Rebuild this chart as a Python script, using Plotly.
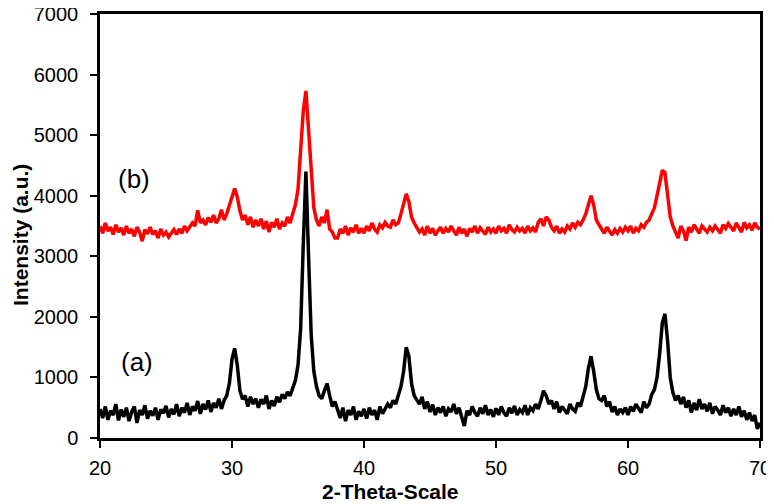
import numpy as np
import plotly.graph_objects as go

# 2-theta grid, 0.2 deg steps from 20 to 70
two_theta = np.round(np.arange(20.0, 70.01, 0.2), 1)

# pattern (a) - black (one row = 2 deg)
intensity_a = [
    480, 330, 520, 300, 450, 380, 560, 290, 470, 350,
    500, 280, 430, 520, 250, 460, 380, 540, 320, 450,
    370, 500, 300, 470, 410, 530, 340, 480, 390, 560,
    360, 500, 420, 580, 380, 520, 450, 610, 400, 560,
    470, 620, 430, 580, 500, 650, 480, 620, 700, 900,
    1300, 1480, 1200, 780, 640, 700, 520, 680, 560, 650,
    500, 640, 560, 700, 480, 620, 530, 680, 590, 720,
    650, 760, 700, 850, 950, 1200, 1800, 3200, 4400, 3000,
    1700, 1100, 850, 700, 650, 780, 900, 700, 520, 600,
    450, 330, 500, 280, 460, 380, 520, 300, 440, 360,
    480, 320, 500, 380, 460, 300, 520, 400, 480, 560,
    500, 620, 560, 700, 850, 1100, 1500, 1350, 900, 700,
    620, 560, 680, 480, 600, 430, 550, 380, 500, 420,
    520, 360, 480, 430, 560, 400, 500, 350, 200, 450,
    380, 520, 420, 360, 500, 400, 540, 380, 470, 350,
    490, 380, 520, 420, 360, 500, 410, 530, 380, 470,
    420, 540, 380, 500, 450, 560, 480, 620, 780, 700,
    560, 620, 480, 600, 420, 520, 470, 400, 560, 480,
    440, 580, 520, 700, 850, 1150, 1350, 1100, 800, 650,
    620, 700, 520, 600, 430, 520, 380, 480, 420, 500,
    380, 520, 440, 560, 480, 420, 600, 500, 560, 720,
    800, 1000, 1400, 1900, 2050, 1600, 1000, 750, 620, 700,
    560, 680, 500, 620, 420, 580, 460, 640, 480, 560,
    440, 580, 400, 520, 460, 380, 540, 420, 500, 360,
    480, 380, 520, 350, 450, 300, 420, 280, 380, 150,
    250,
]

# pattern (b) - red
intensity_b = [
    3500, 3380, 3550, 3420, 3480, 3360, 3520, 3400, 3470, 3350,
    3500, 3380, 3450, 3330, 3480, 3400, 3250, 3440, 3370, 3480,
    3360, 3420, 3300, 3450, 3350, 3400, 3320, 3380, 3440, 3360,
    3450, 3380, 3500, 3420, 3480, 3550, 3500, 3760, 3550, 3600,
    3520, 3640, 3560, 3680, 3550, 3620, 3770, 3600, 3700, 3850,
    3950, 4120, 3980, 3750, 3600, 3680, 3520, 3650, 3480, 3600,
    3500, 3620, 3450, 3580, 3400, 3560, 3480, 3620, 3450, 3550,
    3500, 3650, 3550, 3700, 3850, 4100, 4700, 5400, 5730, 5100,
    4300, 3800, 3600, 3500, 3650, 3550, 3770, 3450, 3400, 3300,
    3300, 3450, 3380, 3500, 3350, 3470, 3400, 3520, 3380, 3460,
    3380, 3500, 3420, 3550, 3450, 3400, 3520, 3470, 3560, 3500,
    3480, 3600, 3520, 3550, 3700, 3850, 4030, 3900, 3650, 3550,
    3480, 3400, 3450, 3350, 3500, 3380, 3460, 3350, 3420, 3480,
    3380, 3460, 3400, 3500, 3420, 3350, 3480, 3380, 3450, 3330,
    3460, 3400, 3500, 3380, 3470, 3420, 3360, 3480, 3400, 3450,
    3380, 3500, 3420, 3460, 3380, 3520, 3440, 3400, 3480, 3420,
    3460, 3380, 3500, 3420, 3470, 3400, 3560, 3620, 3500, 3650,
    3600, 3480, 3420, 3500, 3380, 3450, 3400, 3500, 3450, 3550,
    3480, 3560, 3520, 3600, 3700, 3850, 4000, 3850, 3600, 3520,
    3450, 3380, 3480, 3400, 3350, 3440, 3380, 3460, 3400, 3480,
    3420, 3500, 3380, 3460, 3420, 3520, 3480, 3560, 3600, 3700,
    3800, 4000, 4250, 4420, 4380, 4000, 3650, 3500, 3400, 3300,
    3500, 3420, 3260, 3480, 3400, 3520, 3450, 3380, 3500, 3440,
    3400, 3480, 3420, 3500, 3450, 3380, 3520, 3460, 3540, 3480,
    3420, 3550, 3480, 3400, 3560, 3470, 3520, 3430, 3550, 3480,
    3450,
]

_FONT = dict(family='Liberation Sans, Arial, sans-serif', color='black')

# plot box in figure pixels
_BOX_W, _BOX_H = 660, 424

fig = go.Figure()
fig.add_trace(go.Scatter(
    x=two_theta, y=intensity_b, mode='lines', name='(b)',
    line=dict(color='#FF0000', width=3.5),
))
fig.add_trace(go.Scatter(
    x=two_theta, y=intensity_a, mode='lines', name='(a)',
    line=dict(color='#000000', width=3.5),
))

# curve labels
fig.add_annotation(x=22.6, y=4270, text='(b)', showarrow=False,
                   font=dict(size=26, **_FONT))
fig.add_annotation(x=22.8, y=1250, text='(a)', showarrow=False,
                   font=dict(size=26, **_FONT))

# axis titles placed by hand
fig.add_annotation(xref='paper', yref='paper', x=290 / _BOX_W,
                   y=-53 / _BOX_H, xanchor='center', yanchor='middle',
                   text='<b>2-Theta-Scale</b>', showarrow=False,
                   font=dict(size=21, **_FONT))
fig.add_annotation(xref='paper', yref='paper', x=-80 / _BOX_W,
                   y=203 / _BOX_H, xanchor='center', yanchor='middle',
                   text='<b>Intensity (a.u.)</b>', textangle=-90,
                   showarrow=False, font=dict(size=21, **_FONT))

axis_common = dict(
    showgrid=False, zeroline=False, automargin=False,
    showline=True, linecolor='black', linewidth=2.5, mirror=True,
    ticks='outside', ticklen=7, tickwidth=1.5, tickcolor='black',
    tickfont=dict(size=20, **_FONT), ticklabeloverflow='allow',
)

# page body adds an 8px offset, so the figure is 8px smaller
fig.update_layout(
    width=766, height=496,
    margin=dict(l=92, r=14, t=6, b=66),
    paper_bgcolor='white', plot_bgcolor='white',
    showlegend=False,
    xaxis=dict(range=[20, 70], dtick=10, ticklabelstandoff=3, **axis_common),
    yaxis=dict(range=[0, 7000], dtick=1000, ticklabelstandoff=8, **axis_common),
)

fig.write_html("out.html")
